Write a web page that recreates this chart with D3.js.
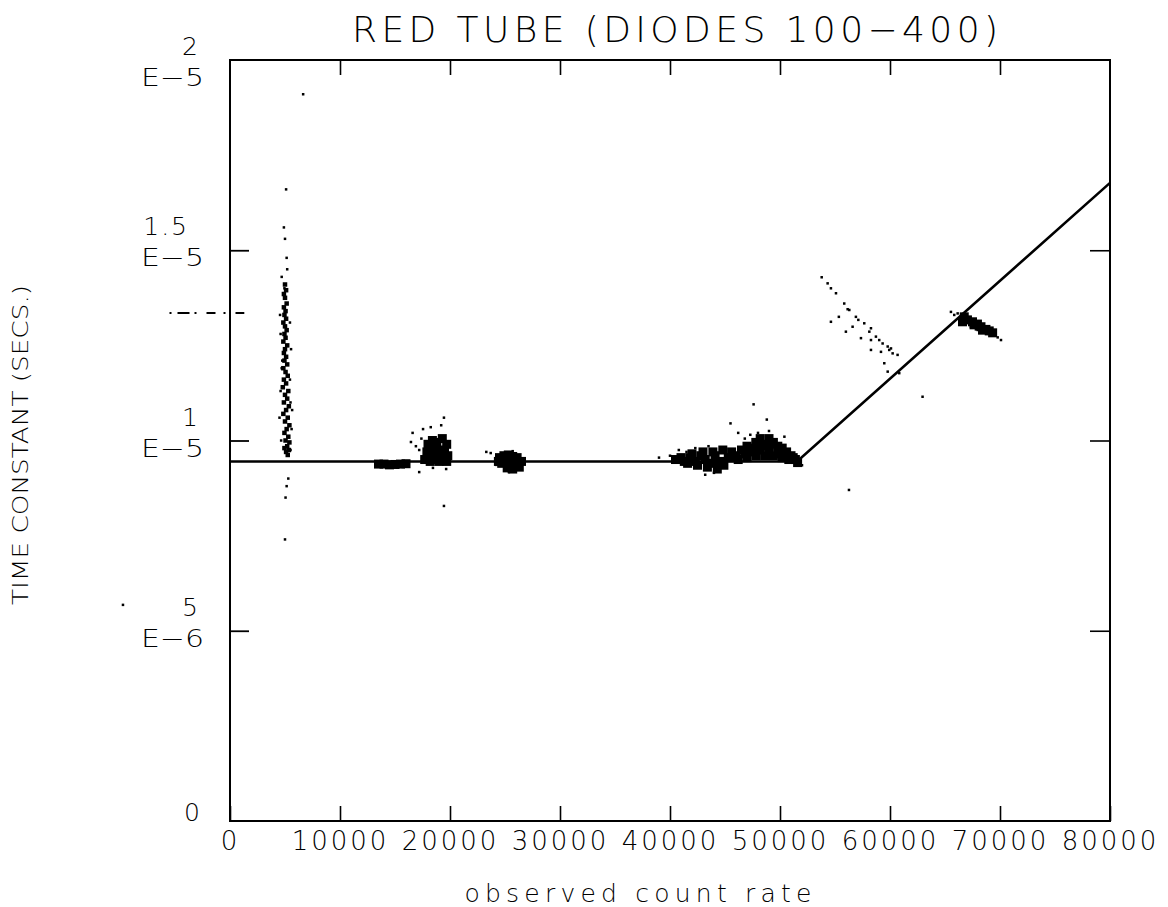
<html>
  <head>
    <meta charset="utf-8">
    <title>RED TUBE</title>
    <style>
      body { margin: 0; background: #fff; }
      text { font-family: "DejaVu Sans", sans-serif; font-weight: 200; fill: #000; }
    </style>
  </head>
<body>
  <script src="https://cdn.jsdelivr.net/npm/d3@7"></script>
  <script>
    // axis ticks
    var xTicks = [0, 10000, 20000, 30000, 40000, 50000, 60000, 70000, 80000];
    var yTicks = [0, 5, 10, 15, 20];            // in 1e-6 s
    var yTickNum = ["0", "5", "1", "1.5", "2"];
    var yTickExp = ["", "E\u22126", "E\u22125", "E\u22125", "E\u22125"];

    // fitted curve (count rate, time constant in 1e-6 s)
    var fitX = [0, 51550, 80000];
    var fitY = [9.45, 9.45, 16.77];

    // dash-dot reference mark left of the axis
    var refX = [-5500, 1300];
    var refY = [13.35, 13.35];

    // scattered single points
    var sparsePts = [
      [6650, 19.1], [5100, 16.6], [4900, 15.6], [5000, 15.3], [5150, 14.8], [5200, 14.5], [4700, 14.3], [4950, 14.0],
      [4600, 12.8], [5500, 11.0], [4500, 10.6], [5600, 10.3], [4650, 10.0], [5500, 9.75], [4700, 11.9], [5450, 11.6],
      [4550, 13.3], [5550, 12.4], [4600, 11.3], [5650, 10.8], [4750, 12.1], [5450, 13.1],
      [5300, 9.0], [5150, 8.8], [5050, 8.5], [5000, 7.4], [-9730, 5.68],
      [19450, 10.6], [19200, 10.4], [16600, 10.2], [17550, 10.3], [18250, 10.35], [16450, 9.96], [17200, 9.75],
      [18450, 9.28], [19650, 9.25], [17200, 9.17], [19450, 8.28], [16900, 9.85], [17400, 10.05],
      [23300, 9.7], [23700, 9.67], [25700, 9.72], [24200, 9.36], [25350, 9.17],
      [39000, 9.55], [40000, 9.6], [40800, 9.75], [41500, 9.7], [42300, 9.8], [43500, 9.85], [44800, 9.3],
      [43200, 9.1], [44000, 9.15], [45500, 10.45], [46200, 10.2], [47600, 10.95],
      [46800, 10.05], [47300, 10.15], [48000, 10.2], [49000, 10.25], [50400, 10.1], [48800, 10.55], [52000, 9.35],
      [56270, 8.7], [62960, 11.15],
      [53790, 14.29], [54330, 14.13], [54630, 14.0], [55090, 13.87], [55840, 13.6], [56300, 13.43], [56900, 13.25],
      [57120, 13.17], [57660, 13.08], [58270, 12.95], [58120, 12.86], [58720, 12.73], [59020, 12.64], [59330, 12.55],
      [59790, 12.47], [60090, 12.42], [60240, 12.29], [60690, 12.25], [59480, 12.03], [59790, 11.81], [60840, 11.77],
      [54630, 13.12], [55990, 12.86], [57360, 12.69], [58270, 12.38], [59180, 12.33], [55350, 13.25], [56600, 12.99],
      [56150, 13.45], [58270, 12.64], [59930, 12.38],
      [65540, 13.38], [65840, 13.3], [66150, 13.34], [70090, 12.64], [69790, 12.71], [67360, 12.99], [67810, 12.92]
    ];

    // vertical streak near 5000
    var streakPts = [
      [5000, 14.1], [5100, 13.95], [4900, 13.85], [5000, 13.75], [5150, 13.6], [4900, 13.5], [5050, 13.4], [4950, 13.3],
      [5100, 13.2], [4850, 13.1], [5000, 13.0], [5150, 12.9], [4950, 12.8], [5050, 12.7], [4850, 12.6], [5200, 12.5],
      [5000, 12.4], [4900, 12.3], [5100, 12.2], [4950, 12.1], [5200, 12.0], [4850, 11.9], [5050, 11.8], [5250, 11.7],
      [4900, 11.6], [5100, 11.5], [4800, 11.4], [5300, 11.3], [5000, 11.2], [5200, 11.1], [4900, 11.0], [5350, 10.9],
      [5100, 10.8], [4850, 10.7], [5250, 10.6], [5000, 10.5], [5400, 10.4], [5150, 10.3], [4950, 10.2], [5300, 10.1],
      [5050, 10.0], [5400, 9.95], [5200, 9.85], [4950, 9.8], [5350, 9.75], [5100, 9.7], [5250, 9.62]
    ];

    // dense blobs sitting on the flat part of the fit
    var blobPts = [
      [13500, 9.38], [14000, 9.38], [14500, 9.36], [15000, 9.37], [15500, 9.38], [16000, 9.39],
      [18000, 9.9], [18400, 10.0], [18800, 9.95], [19300, 10.05], [19700, 9.9], [17900, 9.7], [18300, 9.75],
      [18700, 9.8], [19100, 9.7], [19500, 9.75], [19800, 9.6], [18100, 9.55], [18500, 9.6], [18900, 9.5],
      [19300, 9.55], [19700, 9.45], [17700, 9.5], [18200, 9.45], [19000, 9.45],
      [24500, 9.55], [24900, 9.6], [25300, 9.62], [25700, 9.58], [26100, 9.55], [26500, 9.45], [24700, 9.4],
      [25100, 9.45], [25500, 9.4], [25900, 9.38], [26300, 9.3], [25200, 9.28], [25700, 9.25], [24400, 9.45],
      [40500, 9.5], [41000, 9.55], [41300, 9.45], [41800, 9.55], [42300, 9.45], [42800, 9.6], [43200, 9.5],
      [43700, 9.4], [44100, 9.6], [44500, 9.45], [44900, 9.35], [45300, 9.55], [43400, 9.3], [44300, 9.25],
      [42500, 9.35], [45600, 9.7], [44800, 9.75], [43900, 9.7], [42000, 9.65], [43000, 9.7], [41600, 9.4],
      [46000, 9.6], [46500, 9.75], [47000, 9.85], [47400, 9.7], [47800, 9.95], [48200, 10.05], [48600, 9.9],
      [49000, 10.05], [49400, 9.95], [49800, 9.85], [50200, 9.8], [50600, 9.7], [51000, 9.6], [51400, 9.5],
      [47000, 9.55], [47800, 9.6], [48600, 9.6], [49400, 9.6], [50200, 9.55], [50800, 9.5], [46200, 9.5],
      [48200, 9.75], [49000, 9.75], [49800, 9.65], [51600, 9.42], [46800, 9.65], [47600, 9.8], [48400, 9.85],
      [49200, 9.9], [50000, 9.7], [50600, 9.6], [51200, 9.55], [45700, 9.55],
      [66750, 13.25], [67040, 13.17], [67500, 13.12], [67950, 13.06], [68270, 12.99], [68720, 12.92],
      [69020, 12.88], [69330, 12.83], [66590, 13.12], [67640, 13.04], [68410, 12.9]
    ];

    var width = 1168, height = 907;
    var svg = d3.select("body")
                .append("svg")
                .attr("width", width)
                .attr("height", height);

    var x = d3.scaleLinear().domain([0, 80000]).range([230, 1110]);
    var y = d3.scaleLinear().domain([0, 20]).range([821, 60]);

    // title
    svg.append("text")
       .attr("x", 675).attr("y", 42)
       .attr("text-anchor", "middle")
       .attr("font-size", 36)
       .attr("textLength", 646).attr("lengthAdjust", "spacing")
       .text("RED TUBE (DIODES 100\u2212400)");

    // frame
    svg.append("rect")
       .attr("x", x(0)).attr("y", y(20))
       .attr("width", x(80000) - x(0)).attr("height", y(0) - y(20))
       .attr("fill", "none").attr("stroke", "#000").attr("stroke-width", 2);

    // bottom axis, ticks point inward
    var gx = svg.append("g")
                .attr("transform", "translate(0," + y(0) + ")")
                .call(d3.axisBottom(x).tickValues(xTicks).tickSize(-15).tickPadding(11).tickFormat(d3.format("d")));
    gx.select(".domain").remove();
    gx.selectAll("line").attr("stroke-width", 1.6);
    gx.selectAll("text")
      .attr("font-size", 26)
      .attr("letter-spacing", 3)
      .attr("font-family", null);

    // top axis, ticks only
    var gt = svg.append("g")
                .attr("transform", "translate(0," + y(20) + ")")
                .call(d3.axisTop(x).tickValues(xTicks.slice(1, -1)).tickSize(-15).tickFormat(""));
    gt.select(".domain").remove();
    gt.selectAll("line").attr("stroke-width", 1.6);

    // left / right ticks
    var gl = svg.append("g")
                .attr("transform", "translate(" + x(0) + ",0)")
                .call(d3.axisLeft(y).tickValues(yTicks.slice(1, -1)).tickSize(-19).tickFormat(""));
    gl.select(".domain").remove();
    gl.selectAll("line").attr("stroke-width", 1.8);

    var gr = svg.append("g")
                .attr("transform", "translate(" + x(80000) + ",0)")
                .call(d3.axisRight(y).tickValues(yTicks.slice(1, -1)).tickSize(-20).tickFormat(""));
    gr.select(".domain").remove();
    gr.selectAll("line").attr("stroke-width", 1.6);

    // two-line y labels (mantissa over exponent)
    yTicks.forEach(function(v, i) {
      var ty = y(v);
      if (yTickExp[i] === "") {
        svg.append("text")
           .attr("x", 200).attr("y", ty - 9).attr("dy", "0.36em")
           .attr("text-anchor", "end").attr("font-size", 25)
           .text(yTickNum[i]);
        return;
      }
      var shift = (i === yTicks.length - 1) ? 10 : 0;   // top label sits a bit lower
      var right = yTickNum[i].length > 1 ? 189 : 200;
      svg.append("text")
         .attr("x", right).attr("y", ty - 24 + shift).attr("dy", "0.36em")
         .attr("text-anchor", "end").attr("font-size", 25)
         .attr("letter-spacing", 2)
         .text(yTickNum[i]);
      svg.append("text")
         .attr("x", 141).attr("y", ty + 7 + shift).attr("dy", "0.36em")
         .attr("font-size", 25)
         .attr("textLength", 63).attr("lengthAdjust", "spacingAndGlyphs")
         .text(yTickExp[i]);
    });

    // axis titles
    svg.append("text")
       .attr("x", 638).attr("y", 902)
       .attr("text-anchor", "middle")
       .attr("font-size", 25)
       .attr("textLength", 347).attr("lengthAdjust", "spacing")
       .text("observed count rate");

    svg.append("text")
       .attr("transform", "translate(28,445) rotate(-90)")
       .attr("text-anchor", "middle")
       .attr("font-size", 21)
       .attr("textLength", 320).attr("lengthAdjust", "spacingAndGlyphs")
       .text("TIME CONSTANT (SECS.)");

    // fitted line
    var line = d3.line()
                 .x(function(d) { return x(d[0]); })
                 .y(function(d) { return y(d[1]); });
    svg.append("path")
       .datum(d3.zip(fitX, fitY))
       .attr("d", line)
       .attr("fill", "none").attr("stroke", "#000").attr("stroke-width", 2.6);

    // dash-dot mark
    svg.append("path")
       .datum(d3.zip(refX, refY))
       .attr("d", line)
       .attr("fill", "none").attr("stroke", "#000").attr("stroke-width", 2)
       .attr("stroke-dasharray", "2,6,12,5,2,10,9,8,2,10,26");

    // points
    function drawPts(pts, s) {
      svg.append("g")
         .selectAll("rect")
         .data(pts)
         .enter()
         .append("rect")
         .attr("x", function(d) { return x(d[0]) - s / 2; })
         .attr("y", function(d) { return y(d[1]) - s / 2; })
         .attr("width", s)
         .attr("height", s)
         .attr("fill", "#000");
    }
    drawPts(sparsePts, 2.5);
    drawPts(streakPts, 4.5);
    drawPts(blobPts, 9);
  </script>
</body>
</html>
